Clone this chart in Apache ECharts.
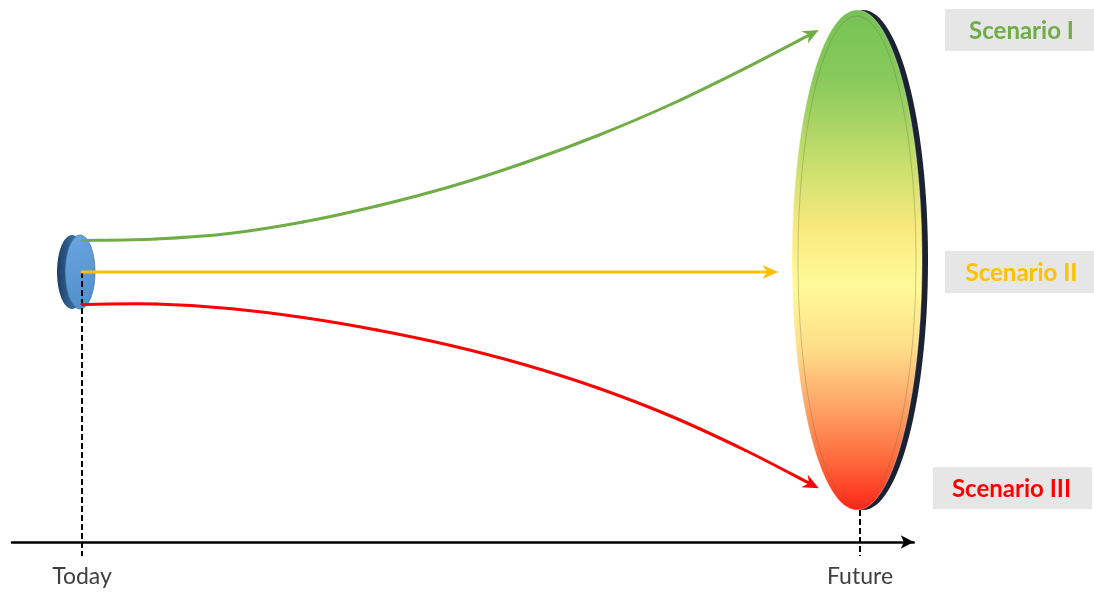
<!DOCTYPE html>
<html><head><meta charset="utf-8">
<script src="https://cdn.jsdelivr.net/npm/echarts@6/dist/echarts.min.js"></script>
<style>html,body{margin:0;padding:0;background:#fff}#c{width:1094px;height:594px}</style>
</head><body><div id="c"></div>
<script>
// ---- data ----
const timeLabels = ['Today', 'Future'];
const timeValues = [0, 100];
// range of possible outcomes at each point in time [low, high]
const rangeLow = [-14.8, -95.2];
const rangeHigh = [14.8, 104.8];
// scenario paths (time, outcome)
const scenarioNames = ['Scenario I', 'Scenario II', 'Scenario III'];
const scenarioIX = [0, 9.5, 18.9, 28.4, 37.9, 47.4, 56.8, 66.3, 75.8, 85.3, 94.7];
const scenarioIY = [12.6, 13.2, 15.4, 20.0, 26.4, 34.2, 43.6, 54.6, 67.2, 81.6, 96.8];
const scenarioIIX = [0, 89.5];
const scenarioIIY = [0, 0];
const scenarioIIIX = [0, 9.5, 18.9, 28.4, 37.9, 47.4, 56.8, 66.3, 75.8, 85.3, 94.7];
const scenarioIIIY = [-13.0, -12.8, -14.6, -18.2, -23.2, -29.4, -37.0, -46.4, -57.8, -71.4, -86.5];

// ---- styles ----
const scenarioColors = ['#70AD47', '#FFC000', '#FF0000'];
const scenarios = [
  { x: scenarioIX, y: scenarioIY },
  { x: scenarioIIX, y: scenarioIIY },
  { x: scenarioIIIX, y: scenarioIIIY }
];
const G = echarts.graphic;

function renderDisc(params, api) {
  const i = params.dataIndex;
  const top = api.coord([timeValues[i], rangeHigh[i]]);
  const bot = api.coord([timeValues[i], rangeLow[i]]);
  const cx = top[0], cy = (top[1] + bot[1]) / 2, ry = (bot[1] - top[1]) / 2;
  if (i === 0) {
    const rx = 15;
    return { type: 'group', children: [
      { type: 'ellipse', shape: { cx: cx - 10, cy: cy, rx: rx, ry: ry },
        style: { fill: new G.LinearGradient(0, 0, 1, 0, [
          { offset: 0, color: '#1E3F66' }, { offset: 0.6, color: '#3A6EA5' }, { offset: 1, color: '#4A82BE' }]) } },
      { type: 'ellipse', shape: { cx: cx - 2, cy: cy, rx: rx, ry: ry },
        style: { fill: new G.LinearGradient(0, 0, 1, 1, [
          { offset: 0, color: '#6AA6DE' }, { offset: 1, color: '#4F8ECB' }]),
          stroke: 'rgba(40,80,130,0.5)', lineWidth: 1 } }
    ] };
  }
  const rx = 65;
  return { type: 'group', children: [
    { type: 'ellipse', shape: { cx: cx + 3, cy: cy, rx: rx, ry: ry },
      style: { fill: '#1B2232' } },
    { type: 'ellipse', shape: { cx: cx - 3, cy: cy, rx: rx, ry: ry },
      style: { fill: new G.LinearGradient(0, 0, 0, 1, [
        { offset: 0, color: '#76C255' },
        { offset: 0.14, color: '#88CA5B' },
        { offset: 0.3, color: '#C5DE6C' },
        { offset: 0.43, color: '#F8E97C' },
        { offset: 0.55, color: '#FFFB98' },
        { offset: 0.68, color: '#FFDC88' },
        { offset: 0.8, color: '#FFA064' },
        { offset: 0.9, color: '#FF6A3C' },
        { offset: 1, color: '#FF2418' }]),
        stroke: 'rgba(255,255,255,0.35)', lineWidth: 1 } },
    { type: 'ellipse', shape: { cx: cx - 3, cy: cy, rx: rx - 6, ry: ry - 6 },
      style: { fill: null, stroke: 'rgba(110,110,70,0.35)', lineWidth: 1 } }
  ] };
}

function renderGuide(params, api) {
  const i = params.dataIndex;
  const yStart = i === 0 ? (rangeLow[i] + rangeHigh[i]) / 2 : rangeLow[i];
  const p0 = api.coord([timeValues[i], yStart]);
  const axisY = api.coord([timeValues[i], -108])[1];
  return { type: 'line', shape: { x1: p0[0], y1: p0[1], x2: p0[0], y2: axisY + 14 },
    style: { stroke: '#000', lineWidth: 2, lineDash: [6, 3] } };
}

// Catmull-Rom through the data points -> cubic bezier segments
function splineSegments(pts, style) {
  const segs = [];
  for (let k = 0; k < pts.length - 1; k++) {
    const p0 = pts[Math.max(0, k - 1)], p1 = pts[k], p2 = pts[k + 1], p3 = pts[Math.min(pts.length - 1, k + 2)];
    segs.push({ type: 'bezierCurve', shape: {
      x1: p1[0], y1: p1[1], x2: p2[0], y2: p2[1],
      cpx1: p1[0] + (p2[0] - p0[0]) / 6, cpy1: p1[1] + (p2[1] - p0[1]) / 6,
      cpx2: p2[0] - (p3[0] - p1[0]) / 6, cpy2: p2[1] - (p3[1] - p1[1]) / 6 },
      style: style });
  }
  return segs;
}

function renderPath(params, api) {
  const s = scenarios[params.dataIndex];
  const color = scenarioColors[params.dataIndex];
  const pts = s.x.map((x, k) => api.coord([x, s.y[k]]));
  const n = pts.length;
  const a = pts[n - 2], b = pts[n - 1];
  const ang = Math.atan2(b[1] - a[1], b[0] - a[0]);
  const c = Math.cos(ang), sn = Math.sin(ang);
  const L = 16, W = 7, notch = 5;
  const base = [b[0] - L * c, b[1] - L * sn];
  const left = [base[0] + W * sn, base[1] - W * c];
  const right = [base[0] - W * sn, base[1] + W * c];
  const np = [b[0] - (L - notch) * c, b[1] - (L - notch) * sn];
  const linePts = pts.slice(0, n - 1).concat([np]);
  const lineStyle = { stroke: color, lineWidth: 3, fill: null, lineCap: 'round' };
  return { type: 'group', children: splineSegments(linePts, lineStyle).concat([
    { type: 'polygon', shape: { points: [b, left, np, right] }, style: { fill: color } }
  ]) };
}

const labelBoxes = [[945, 149], [945, 149], [933, 159]];
function renderLabel(params, api) {
  const i = params.dataIndex;
  const s = scenarios[i];
  const y = api.coord([0, s.y[s.y.length - 1]])[1];
  const box = labelBoxes[i];
  return { type: 'group', children: [
    { type: 'rect', shape: { x: box[0], y: y - 21, width: box[1], height: 42 },
      style: { fill: '#E6E6E6' } },
    { type: 'text', x: box[0] + box[1] / 2 + (i === 2 ? -1 : 2), y: y + 1,
      style: { text: scenarioNames[i], fill: scenarioColors[i], font: 'bold 24px Lato',
        align: 'center', verticalAlign: 'middle' } }
  ] };
}

const chart = echarts.init(document.getElementById('c'), null, { renderer: 'canvas' });
chart.setOption({
  animation: false,
  backgroundColor: '#fff',
  grid: { left: 12, width: 901.7, top: 22, height: 520 },
  xAxis: {
    type: 'value', min: -9, max: 106.9,
    splitLine: { show: false },
    axisLine: { onZero: false, lineStyle: { color: '#000', width: 2.5 }, symbol: ['none', 'arrow'], symbolSize: [10, 13] },
    axisTick: { show: false },
    axisLabel: {
      customValues: timeValues,
      formatter: function (v) { const k = timeValues.indexOf(v); return k >= 0 ? timeLabels[k] : ''; },
      color: '#404040', fontSize: 23, fontFamily: 'Lato', margin: 23
    }
  },
  yAxis: { type: 'value', min: -108, max: 100, show: false },
  series: [
    { type: 'custom', z: 1, clip: false, renderItem: renderDisc,
      data: timeValues.map((t, k) => [t, (rangeLow[k] + rangeHigh[k]) / 2]) },
    { type: 'custom', z: 2, clip: false, renderItem: renderGuide,
      data: timeValues.map((t, k) => [t, rangeLow[k]]) },
    { type: 'custom', z: 3, clip: false, renderItem: renderPath,
      data: scenarios.map(s => [s.x[s.x.length - 1], s.y[s.y.length - 1]]) },
    { type: 'custom', z: 4, clip: false, renderItem: renderLabel,
      data: scenarios.map(s => [s.x[s.x.length - 1], s.y[s.y.length - 1]]) }
  ]
});
</script></body></html>
